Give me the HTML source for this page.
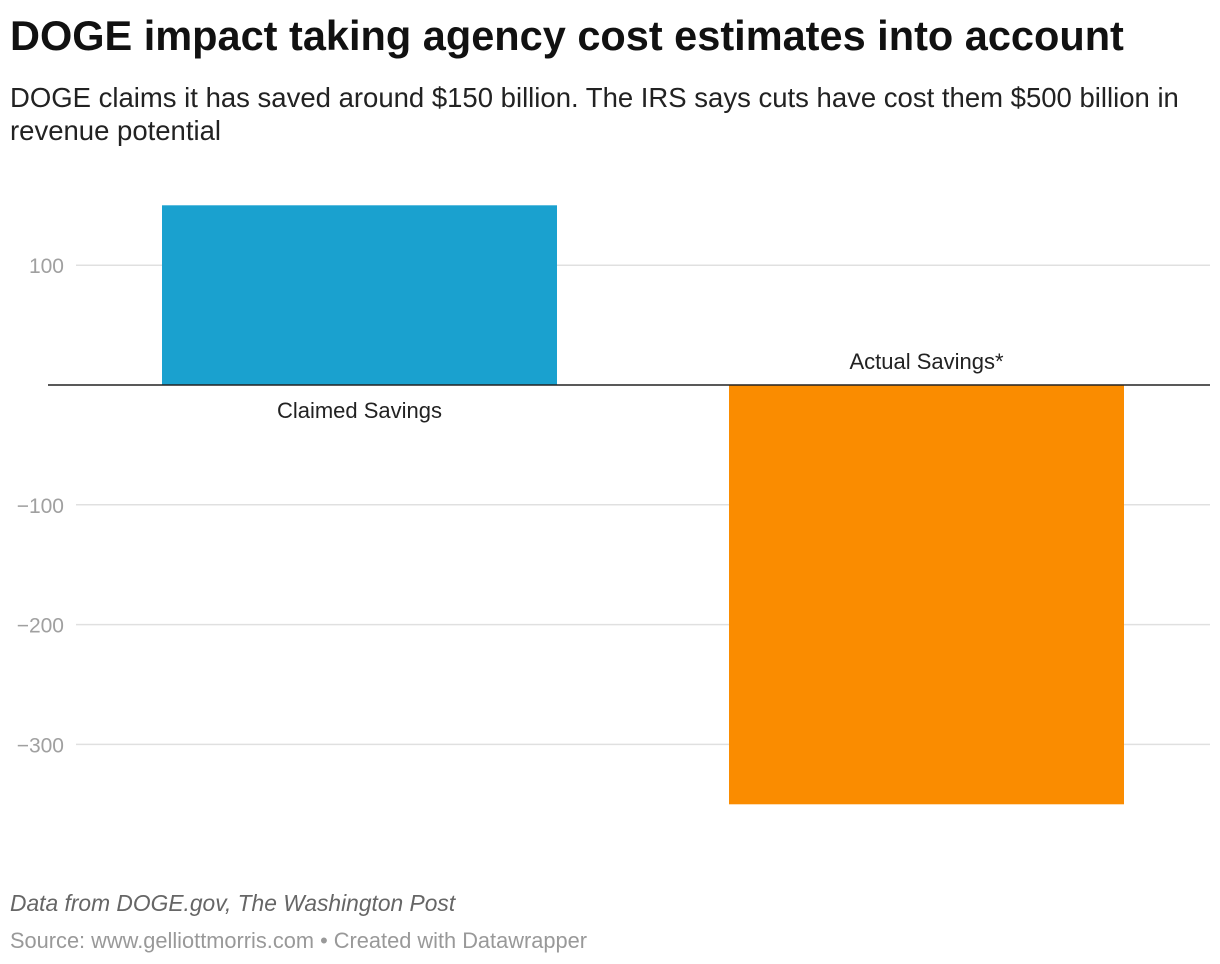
<!DOCTYPE html>
<html><head><meta charset="utf-8"><style>
body{margin:0;background:#fff;width:1220px;height:964px;overflow:hidden;font-family:"Liberation Sans",sans-serif}
#title{position:absolute;left:10px;top:12px;font-size:41.5px;font-weight:bold;color:#111;margin:0;white-space:nowrap}
#sub{position:absolute;left:10px;top:81px;font-size:27.5px;color:#222;line-height:33px;width:1205px}
#note{position:absolute;left:10px;top:890px;font-size:22.8px;font-style:italic;color:#666}
#src{position:absolute;left:10px;top:928px;font-size:21.8px;color:#999}
svg{position:absolute;left:0;top:0}
</style></head><body>
<h1 id="title">DOGE impact taking agency cost estimates into account</h1>
<div id="sub">DOGE claims it has saved around $150 billion. The IRS says cuts have cost them $500 billion in revenue potential</div>
<svg id="chart" width="1220" height="964"></svg>
<div id="note">Data from DOGE.gov, The Washington Post</div>
<div id="src">Source: www.gelliottmorris.com • Created with Datawrapper</div>
<script>
const categories=["Claimed Savings","Actual Savings*"];
const values=[150,-350];
const ticks=[100,-100,-200,-300];
const colors=["#1aa1cf","#fa8c00"];
const NS="http://www.w3.org/2000/svg";
const svg=document.getElementById('chart');
const x0=76,x1=1210,zeroY=385,pxPer=1.198;
const y=v=>zeroY-v*pxPer;
const band=(x1-x0)/categories.length;
function mk(t,a){const e=document.createElementNS(NS,t);for(const k in a)e.setAttribute(k,a[k]);svg.appendChild(e);return e;}
ticks.forEach(t=>{
  const l=mk('line',{x1:x0,x2:x1,y1:y(t),y2:y(t),stroke:'#e0e0e0','stroke-width':1.5});
  
  
  const tx=mk('text',{x:64,y:y(t)+8,'text-anchor':'end','font-size':21,fill:'#a0a0a0'});
  tx.textContent=(t<0?'\u2212':'')+Math.abs(t);
  
  
});
categories.forEach((c,i)=>{
  const cx=x0+band*(i+0.5),w=395,v=values[i];
  const r=mk('rect',{x:cx-w/2,y:Math.min(y(v),zeroY),width:w,height:Math.abs(y(v)-zeroY),fill:colors[i]});
  
  
  const ly=v>=0?zeroY+33:zeroY-16;
  const t=mk('text',{x:cx,y:ly,'text-anchor':'middle','font-size':22,fill:'#222'});
  t.textContent=c;
  
  
});
const z=mk('line',{x1:48,x2:x1,y1:zeroY,y2:zeroY,stroke:'#222','stroke-width':1.5});


</script>
</body></html>
